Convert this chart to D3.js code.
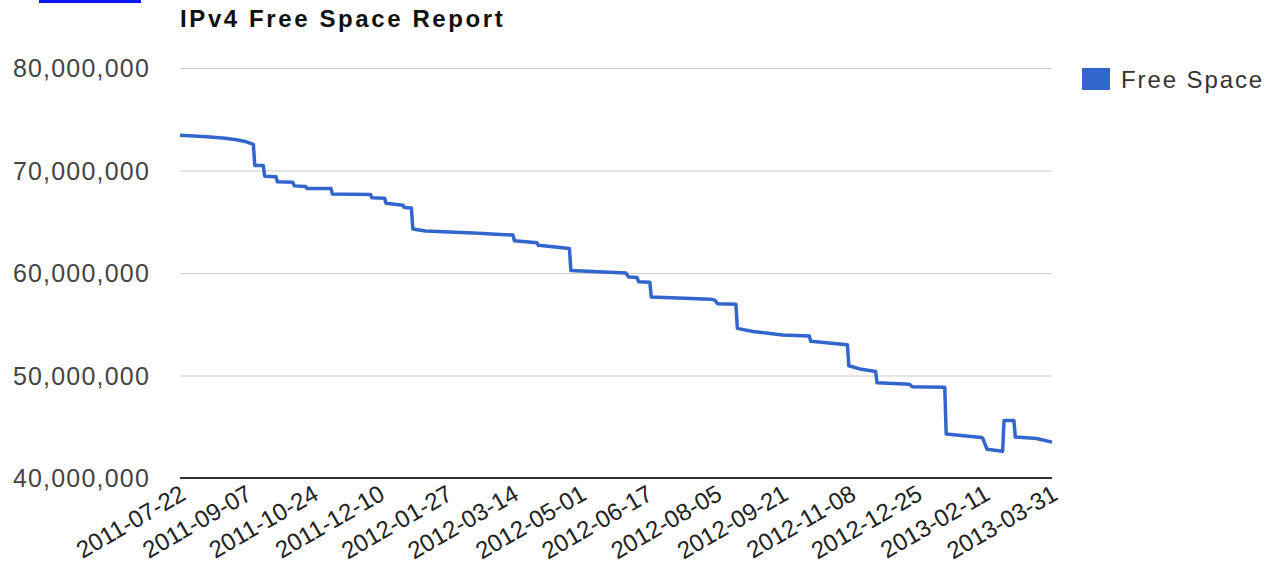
<!DOCTYPE html>
<html lang="en">
<head>
    <meta charset="UTF-8">
    <title>IPv4 Free Space Report</title>
    <script src="https://d3js.org/d3.v7.min.js"></script>
    <style>
        body { margin: 0; background: #fff; }
        svg text { font-family: "Liberation Sans", Arial, sans-serif; }
        .ylab { font-size: 25px; fill: #444; letter-spacing: 1.2px; }
        .xlab { font-size: 24px; fill: #222; }
    </style>
</head>
<body>
    <div id="chart"></div>

    <script>
        // data (values in millions of addresses)
        const dates = [
            "2011-07-22", "2011-08-10", "2011-08-23", "2011-08-31", "2011-09-07", "2011-09-12",
            "2011-09-13", "2011-09-19", "2011-09-20", "2011-09-28", "2011-09-29", "2011-10-10",
            "2011-10-11", "2011-10-19", "2011-10-20", "2011-11-06", "2011-11-07", "2011-12-04",
            "2011-12-05", "2011-12-14", "2011-12-15", "2011-12-27", "2011-12-28", "2012-01-02",
            "2012-01-03", "2012-01-12", "2012-02-15", "2012-03-14", "2012-03-15", "2012-03-31",
            "2012-04-01", "2012-04-23", "2012-04-24", "2012-06-02", "2012-06-04", "2012-06-10",
            "2012-06-11", "2012-06-19", "2012-06-20", "2012-08-01", "2012-08-04", "2012-08-06",
            "2012-08-19", "2012-08-20", "2012-08-31", "2012-09-21", "2012-10-10", "2012-10-11",
            "2012-11-06", "2012-11-07", "2012-11-16", "2012-11-26", "2012-11-27", "2012-12-20",
            "2012-12-22", "2013-01-14", "2013-01-15", "2013-02-09", "2013-02-10", "2013-02-13",
            "2013-02-24", "2013-02-25", "2013-03-04", "2013-03-05", "2013-03-20", "2013-03-31"
        ];
        const freeSpace = [
            73.45, 73.3, 73.15, 73.0, 72.8, 72.55,
            70.5, 70.5, 69.45, 69.4, 68.9, 68.85,
            68.5, 68.45, 68.25, 68.25, 67.7, 67.65,
            67.35, 67.3, 66.8, 66.6, 66.4, 66.35,
            64.3, 64.1, 63.9, 63.7, 63.15, 62.95,
            62.7, 62.4, 60.25, 60.0, 59.6, 59.55,
            59.15, 59.1, 57.65, 57.45, 57.35, 57.0,
            56.95, 54.6, 54.3, 53.95, 53.85, 53.35,
            53.0, 50.95, 50.6, 50.4, 49.3, 49.15,
            48.9, 48.85, 44.3, 43.95, 43.85, 42.8,
            42.6, 45.6, 45.6, 44.0, 43.85, 43.5
        ];
        const xTickLabels = [
            "2011-07-22", "2011-09-07", "2011-10-24", "2011-12-10", "2012-01-27", "2012-03-14",
            "2012-05-01", "2012-06-17", "2012-08-05", "2012-09-21", "2012-11-08", "2012-12-25",
            "2013-02-11", "2013-03-31"
        ];
        const yTicks = [40e6, 50e6, 60e6, 70e6, 80e6];
        const seriesName = "Free Space";
        const chartTitle = "IPv4 Free Space Report";

        const width = 1268;
        const height = 571;
        const margin = { top: 68, right: 216, bottom: 93, left: 180 };
        const color = "#3366cc";

        const parse = d3.timeParse("%Y-%m-%d");
        const data = dates.map((d, i) => ({ date: parse(d), value: freeSpace[i] * 1e6 }));

        const svg = d3.select("#chart")
            .append("svg")
            .attr("width", width)
            .attr("height", height);

        const x = d3.scaleTime()
            .domain([parse(xTickLabels[0]), parse(xTickLabels[xTickLabels.length - 1])])
            .range([margin.left, width - margin.right]);

        const y = d3.scaleLinear()
            .domain([40e6, 80e6])
            .range([height - margin.bottom, margin.top]);

        // cut-off link at the very top
        svg.append("rect")
            .attr("x", 39).attr("y", 0)
            .attr("width", 102).attr("height", 3)
            .attr("fill", "#0a14f5");

        svg.append("text")
            .attr("x", margin.left)
            .attr("y", 27)
            .style("font-size", "24px")
            .style("font-weight", "bold")
            .style("letter-spacing", "2.6px")
            .attr("fill", "#111")
            .text(chartTitle);

        // gridlines
        svg.append("g")
            .selectAll("line")
            .data(yTicks.slice(1))
            .enter()
            .append("line")
            .attr("x1", margin.left)
            .attr("x2", width - margin.right)
            .attr("y1", d => y(d) + 0.5)
            .attr("y2", d => y(d) + 0.5)
            .attr("stroke", "#cccccc")
            .attr("stroke-width", 1);

        // y labels
        svg.append("g")
            .selectAll("text")
            .data(yTicks)
            .enter()
            .append("text")
            .attr("class", "ylab")
            .attr("x", 150)
            .attr("y", d => y(d))
            .attr("dy", "0.36em")
            .attr("text-anchor", "end")
            .text(d => d3.format(",")(d));

        // the line
        const line = d3.line()
            .x(d => x(d.date))
            .y(d => y(d.value));

        svg.append("path")
            .datum(data)
            .attr("fill", "none")
            .attr("stroke", color)
            .attr("stroke-width", 3.5)
            .attr("stroke-linejoin", "round")
            .attr("d", line);

        // baseline
        svg.append("line")
            .attr("x1", margin.left)
            .attr("x2", width - margin.right)
            .attr("y1", y(40e6))
            .attr("y2", y(40e6))
            .attr("stroke", "#333")
            .attr("stroke-width", 2);

        // rotated x labels
        svg.append("g")
            .selectAll("text")
            .data(xTickLabels)
            .enter()
            .append("text")
            .attr("class", "xlab")
            .attr("text-anchor", "end")
            .attr("transform", d => `translate(${x(parse(d)) + 3},${height - margin.bottom + 13}) rotate(-30)`)
            .attr("dy", "0.36em")
            .text(d => d);

        // legend
        svg.append("rect")
            .attr("x", 1082)
            .attr("y", 68)
            .attr("width", 28)
            .attr("height", 22)
            .attr("fill", color);

        svg.append("text")
            .attr("x", 1121)
            .attr("y", 79)
            .attr("dy", "0.36em")
            .style("font-size", "24px")
            .style("letter-spacing", "1.9px")
            .attr("fill", "#333")
            .text(seriesName);
    </script>
</body>
</html>
